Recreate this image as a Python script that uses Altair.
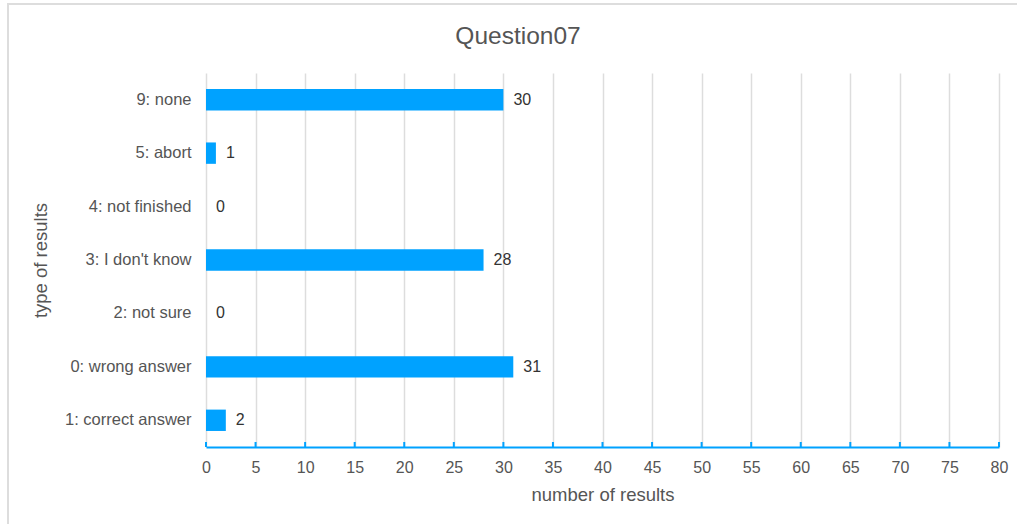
import altair as alt
import pandas as pd

categories = [
    "9: none",
    "5: abort",
    "4: not finished",
    "3: I don't know",
    "2: not sure",
    "0: wrong answer",
    "1: correct answer",
]
counts = [30, 1, 0, 28, 0, 31, 2]
x_ticks = list(range(0, 81, 5))
chart_title = "Question07"

df = pd.DataFrame({"type": categories, "count": counts})
ticks_df = pd.DataFrame({"v": x_ticks})

W, H = 793, 374
BLUE = "#00A2FF"
FONT = "Liberation Sans"

x_scale = alt.Scale(domain=[0, 80], nice=False, zero=True)
y_scale = alt.Scale(domain=categories, paddingInner=0.6, paddingOuter=0.3)

bars = alt.Chart(df).mark_bar(color=BLUE).encode(
    x=alt.X(
        "count:Q",
        scale=x_scale,
        title="number of results",
        axis=alt.Axis(
            values=x_ticks,
            labelFontSize=16,
            labelColor="#555555",
            labelPadding=12,
            labelFlush=False,
            titleFontSize=18.5,
            titleColor="#555555",
            titleFontWeight="normal",
            titlePadding=10,
            domainColor=BLUE,
            domainWidth=2,
            ticks=False,
            grid=True,
            gridColor="#dddddd",
            gridWidth=1.5,
        ),
    ),
    y=alt.Y(
        "type:N",
        scale=y_scale,
        title="type of results",
        axis=alt.Axis(
            labelFontSize=16.5,
            labelColor="#555555",
            labelPadding=15,
            titleFontSize=18.5,
            titleColor="#555555",
            titleFontWeight="normal",
            titlePadding=14,
            domain=False,
            ticks=False,
        ),
    ),
)

labels = alt.Chart(df).mark_text(
    align="left", baseline="middle", dx=10, fontSize=16, color="#333333", font=FONT
).encode(
    x=alt.X("count:Q", scale=x_scale),
    y=alt.Y("type:N", scale=y_scale),
    text="count:Q",
)

# small upward tick marks sitting on the x axis line
axis_ticks = alt.Chart(ticks_df).mark_rule(color=BLUE, strokeWidth=2).encode(
    x=alt.X("v:Q", scale=x_scale),
    y=alt.value(H - 5),
    y2=alt.value(H),
)

# light frame around the whole chart
frame = alt.Chart(alt.Data(values=[{}])).mark_rect(
    fill=None, stroke="#dddddd", strokeWidth=2
).encode(
    x=alt.value(-198),
    x2=alt.value(W + 60),
    y=alt.value(-69),
    y2=alt.value(H + 120),
)

# chart heading, centred over the whole figure
heading = alt.Chart(alt.Data(values=[{"t": chart_title}])).mark_text(
    align="center", baseline="middle", fontSize=24.5, color="#555555", font=FONT
).encode(
    x=alt.value(312),
    y=alt.value(-36),
    text="t:N",
)

chart = (
    alt.layer(frame, bars, axis_ticks, labels, heading)
    .properties(
        width=W,
        height=H,
        autosize=alt.AutoSizeParams(type="none"),
        padding={"left": 206, "top": 73, "right": 18, "bottom": 77},
    )
    .configure(font=FONT)
    .configure_view(stroke=None)
    .configure_axis(labelFont=FONT, titleFont=FONT)
)

chart.save("out.html", embed_options={"renderer": "svg", "actions": False})
